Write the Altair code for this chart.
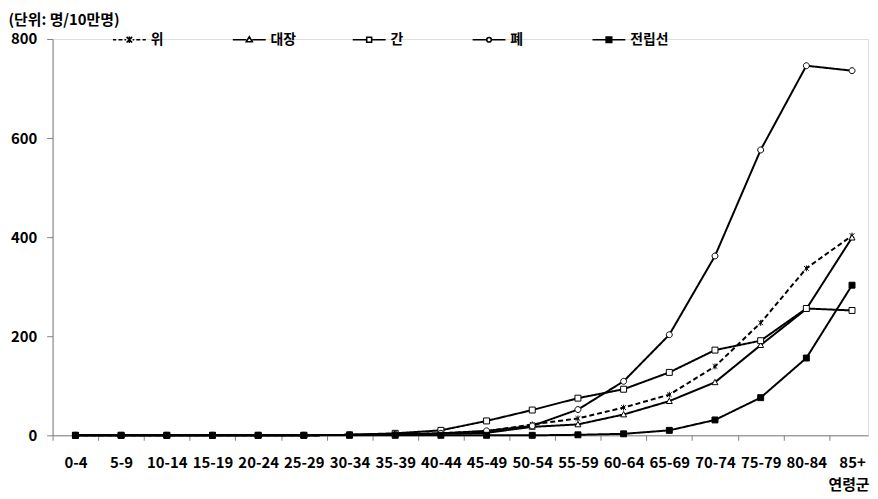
import altair as alt
import pandas as pd

ages = ["0-4", "5-9", "10-14", "15-19", "20-24", "25-29", "30-34", "35-39", "40-44",
        "45-49", "50-54", "55-59", "60-64", "65-69", "70-74", "75-79", "80-84", "85+"]
series = ["위", "대장", "간", "폐", "전립선"]

stomach = [0, 0, 0, 0, 0, 0, 1, 2, 4, 8, 22, 34, 56, 82, 139, 227, 337, 403]
colon = [0, 0, 0, 0, 0, 0, 1, 2, 3, 5, 17, 22, 42, 69, 107, 182, 255, 399]
liver = [0, 0, 0, 0, 0, 0, 1, 4, 10, 29, 51, 75, 93, 127, 172, 191, 256, 252]
lung = [0, 0, 0, 0, 0, 0, 1, 2, 4, 9, 19, 52, 109, 203, 362, 576, 746, 736]
prostate = [0, 0, 0, 0, 0, 0, 0, 0, 0, 0, 0, 1, 3, 10, 31, 76, 156, 303]

rows = []
for name, vals in zip(series, [stomach, colon, liver, lung, prostate]):
    for i, (a, v) in enumerate(zip(ages, vals)):
        rows.append({"series": name, "idx": i, "age": a, "rate": v})
df = pd.DataFrame(rows)

FONT = "Noto Sans CJK KR"
W, H = 823, 400
band = W / 17.85
label_expr = "[" + ",".join(f"'{a}'" for a in ages) + "][datum.value]"

x = alt.X(
    "idx:Q",
    scale=alt.Scale(domain=[-0.5, 17.35], nice=False, zero=False),
    axis=alt.Axis(
        values=list(range(18)), labelExpr=label_expr, tickOffset=-band / 2,
        labelOffset=band / 2, labelOverlap=False, labelFlush=False,
        tickSize=5, labelPadding=15, domainColor="#808080", tickColor="#808080",
        labelFont=FONT, labelFontWeight="bold", labelFontSize=15, labelColor="black",
        grid=False, title="연령군", titleFont=FONT, titleFontWeight="bold",
        titleFontSize=15, titleColor="black", titleX=W + 1, titleY=50,
        titleAlign="right", titleBaseline="middle", titleAnchor="end",
    ),
)
y = alt.Y(
    "rate:Q",
    scale=alt.Scale(domain=[0, 800], nice=False),
    axis=alt.Axis(
        values=[0, 200, 400, 600, 800], tickSize=6, labelPadding=10,
        domainColor="#808080", tickColor="#808080", grid=False,
        labelFont=FONT, labelFontWeight="bold", labelFontSize=15, labelColor="black",
        title="(단위: 명/10만명)", titleFont=FONT, titleFontWeight="bold",
        titleFontSize=15, titleColor="black", titleAngle=0, titleX=-45, titleY=-20,
        titleAlign="left", titleBaseline="middle",
    ),
)

dash_range = [[5, 3], [1, 0], [1, 0], [1, 0], [1, 0]]
width_range = [2, 2, 2, 2, 3.5]
fill_range = ["white", "white", "white", "white", "black"]
black_range = ["black"] * 5

asterisk = "M-0.8,-0.8L0.8,0.8M-0.8,0.8L0.8,-0.8M0,-1V1"
triangle = "M0,-1L1,0.8L-1,0.8Z"
square = "M-1,-1H1V1H-1Z"
circle = "M-1,0A1,1 0 1,0 1,0A1,1 0 1,0 -1,0Z"
marker_paths = [asterisk, triangle, square, circle, square]
marker_sizes = [36, 36, 30, 30, 40]

leg_paths = [
    "M-1,0H-0.8M-0.66,0H-0.42M-0.3,0H-0.2"
    "M-0.17,-0.17L0.17,0.17M-0.17,0.17L0.17,-0.17M0,-0.2V0.2"
    "M0.2,0H0.3M0.42,0H0.66M0.8,0H1",
    "M-1,0H-0.18M0.18,0H1M0,-0.18L0.18,0.12L-0.18,0.12Z",
    "M-1,0H-0.15M0.15,0H1M-0.15,-0.15H0.15V0.15H-0.15Z",
    "M-1,0H-0.14M0.14,0H1M-0.14,0A0.14,0.14 0 1,0 0.14,0A0.14,0.14 0 1,0 -0.14,0Z",
    "M-1,0H-0.17M0.17,0H1M-0.17,-0.17H0.17V0.17H-0.17Z",
]

base = alt.Chart(df)

lines = base.mark_line(color="black").encode(
    x=x, y=y,
    detail="series:N",
    strokeDash=alt.StrokeDash("series:N", scale=alt.Scale(domain=series, range=dash_range), legend=None),
    strokeWidth=alt.StrokeWidth("series:N", scale=alt.Scale(domain=series, range=width_range), legend=None),
)

points = base.mark_point(color="black", strokeWidth=1, opacity=1).encode(
    x=x, y=y,
    shape=alt.Shape("series:N", scale=alt.Scale(domain=series, range=marker_paths), legend=None),
    fill=alt.Fill("series:N", scale=alt.Scale(domain=series, range=fill_range), legend=None),
    size=alt.Size("series:N", scale=alt.Scale(domain=series, range=marker_sizes), legend=None),
)

leg = alt.Legend(
    title=None, orient="none", legendX=60, legendY=-17, direction="horizontal",
    columns=5, gridAlign="all", columnPadding=40, padding=0,
    symbolSize=1024, labelFont=FONT, labelFontWeight="bold", labelFontSize=14,
    labelColor="black", labelOffset=4, symbolStrokeColor="black",
)

legend_layer = base.transform_filter("false").mark_point(color="black", opacity=1).encode(
    x=x, y=y,
    shape=alt.Shape("series:N", scale=alt.Scale(domain=series, range=leg_paths), legend=leg),
    fill=alt.Fill("series:N", scale=alt.Scale(domain=series, range=fill_range), legend=leg),
    stroke=alt.Stroke("series:N", scale=alt.Scale(domain=series, range=black_range), legend=leg),
    size=alt.Size("series:N", scale=alt.Scale(domain=series, range=[1100] * 5), legend=leg),
    strokeWidth=alt.StrokeWidth("series:N", scale=alt.Scale(domain=series, range=[1.6, 1.6, 1.6, 1.6, 3]), legend=leg),
)

chart = alt.layer(lines, points, legend_layer).resolve_scale(
    shape="independent", fill="independent", strokeWidth="independent",
    strokeDash="independent", size="independent", stroke="independent",
).resolve_legend(
    shape="independent", fill="independent", strokeWidth="independent",
    strokeDash="independent", size="independent", stroke="independent",
).properties(
    width=W, height=H,
    autosize=alt.AutoSizeParams(type="none"),
    padding={"left": 45, "top": 29, "right": 2, "bottom": 60},
).configure_view(stroke=None).configure(background="white")

chart.save("out.html", embed_options={"renderer": "svg", "actions": False})
